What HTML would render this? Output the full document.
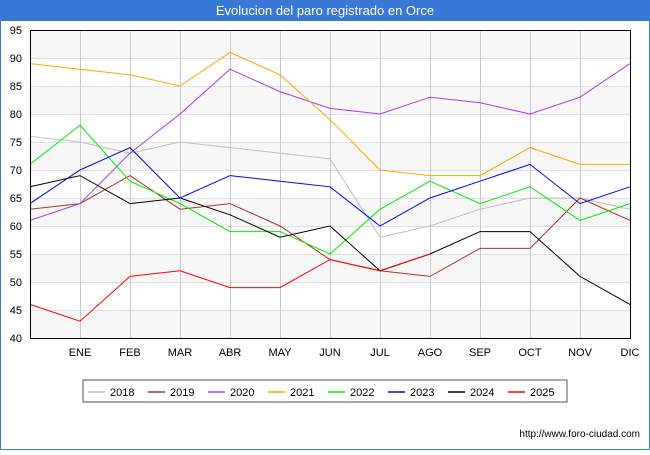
<!DOCTYPE html>
<html><head><meta charset="utf-8"><style>
body{margin:0;background:#fff;}
svg text{font-family:"Liberation Sans","DejaVu Sans",sans-serif;}
</style></head><body>
<svg width="650" height="450" xmlns="http://www.w3.org/2000/svg">
<rect x="0" y="0" width="650" height="450" fill="#fff"/>
<rect x="0.5" y="0.5" width="649" height="449" fill="none" stroke="#3a78d8" stroke-width="1"/>
<rect x="0" y="0" width="650" height="21" fill="#3a78d8"/>
<text x="325" y="15" text-anchor="middle" fill="#fff" font-size="13">Evolucion del paro registrado en Orce</text>
<g id="grid"></g>
<g id="series"></g>
<rect x="30.5" y="30.5" width="600" height="308" fill="none" stroke="#000"/>
<g id="axes"></g>
<g>
<rect x="83" y="380" width="484" height="22" fill="#fff" stroke="#555"/>
<g id="legend"></g>
</g>
<text x="640" y="437" text-anchor="end" font-size="10" fill="#000">http://www.foro-ciudad.com</text>
</svg>
<script>
const months=["","ENE","FEB","MAR","ABR","MAY","JUN","JUL","AGO","SEP","OCT","NOV","DIC"];
const yTicks=[40,45,50,55,60,65,70,75,80,85,90,95];
const years=["2018","2019","2020","2021","2022","2023","2024","2025"];
const colors=["#c0c0c0","#b03030","#a040f0","#ffa500","#00ee00","#0000ff","#000000","#ff0000"];
const s2018=[76,75,73,75,74,73,72,58,60,63,65,65,63];
const s2019=[63,64,69,63,64,60,54,52,51,56,56,65,61];
const s2020=[61,64,73,80,88,84,81,80,83,82,80,83,89];
const s2021=[89,88,87,85,91,87,79,70,69,69,74,71,71];
const s2022=[71,78,68,64,59,59,55,63,68,64,67,61,64];
const s2023=[64,70,74,65,69,68,67,60,65,68,71,64,67];
const s2024=[67,69,64,65,62,58,60,52,55,59,59,51,46];
const s2025=[46,43,51,52,49,49,54,52,55];
const series=[s2018,s2019,s2020,s2021,s2022,s2023,s2024,s2025];
const NS="http://www.w3.org/2000/svg";
const X0=30,X1=630,Y0=338,Y1=30,YMIN=40,YMAX=95;
function xs(i){return X0+i*(X1-X0)/(months.length-1);}
function ys(v){return Y0-(v-YMIN)*(Y0-Y1)/(YMAX-YMIN);}
function mk(t,a,p){const e=document.createElementNS(NS,t);for(const k in a)e.setAttribute(k,a[k]);p.appendChild(e);return e;}
const grid=document.getElementById('grid');
for(let i=0;i<yTicks.length-1;i++){
 if(i%2===0){const r=mk('rect',{x:X0,y:ys(yTicks[i+1]),width:X1-X0,height:ys(yTicks[i])-ys(yTicks[i+1]),fill:'#f7f7f7'},grid);
 
 }
}
yTicks.forEach(v=>{const l=mk('line',{x1:X0,x2:X1,y1:ys(v)+0.5,y2:ys(v)+0.5,stroke:'#e0e0e0'},grid);
 
 });
months.forEach((m,i)=>{if(i>0){const l=mk('line',{x1:xs(i)+0.5,x2:xs(i)+0.5,y1:Y1,y2:Y0,stroke:'#c8c8c8'},grid);
 
 }});
const sg=document.getElementById('series');
series.forEach((s,k)=>{
 const pts=s.map((v,i)=>xs(i)+','+ys(v)).join(' ');
 const p=mk('polyline',{points:pts,fill:'none',stroke:colors[k],'stroke-width':1},sg);
 
 
});
const ax=document.getElementById('axes');
yTicks.forEach(v=>{const t=mk('text',{x:22,y:ys(v)+4,'text-anchor':'end','font-size':11,fill:'#000'},ax);t.textContent=v;
 
 });
months.forEach((m,i)=>{if(m){const t=mk('text',{x:xs(i),y:356,'text-anchor':'middle','font-size':11,fill:'#000'},ax);t.textContent=m;
 
 }});
const lg=document.getElementById('legend');
years.forEach((y,k)=>{const x=88+k*60;
 const l=mk('line',{x1:x,x2:x+17,y1:392,y2:392,stroke:colors[k],'stroke-width':1.5},lg);
 
 
 const t=mk('text',{x:x+22,y:396,'font-size':11,fill:'#000'},lg);t.textContent=y;
 
 
});
</script>
</body></html>
